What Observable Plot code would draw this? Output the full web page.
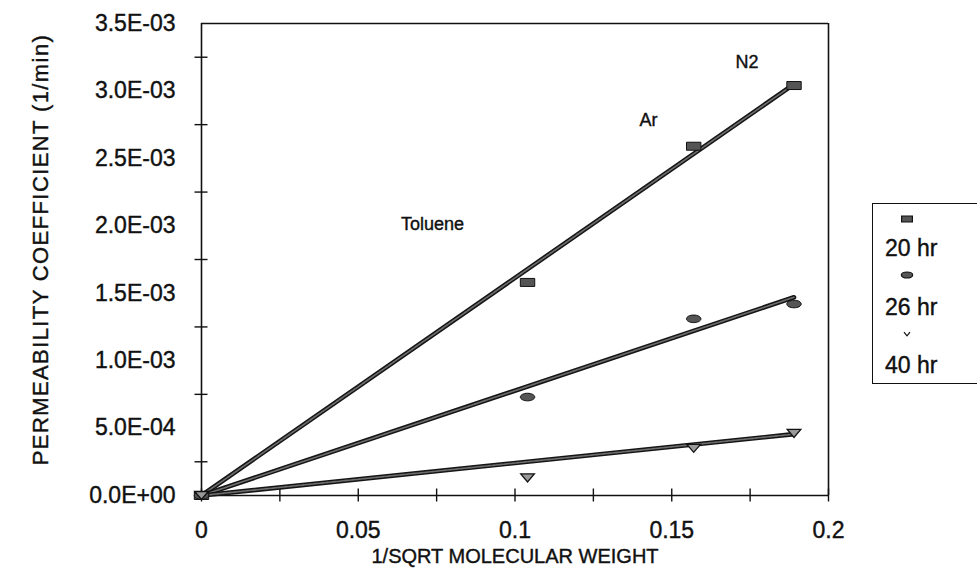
<!DOCTYPE html>
<html><head><meta charset="utf-8">
<script src="https://cdn.jsdelivr.net/npm/d3@7"></script>
<script src="https://cdn.jsdelivr.net/npm/@observablehq/plot@0.6"></script>
<style>
body{margin:0;background:#fff;font-family:"Liberation Sans",Arial,sans-serif;}
#wrap{position:relative;width:977px;height:571px;overflow:hidden;}
#legend{position:absolute;left:872px;top:203px;width:160px;height:181px;border:1.5px solid #111;box-sizing:border-box;}
#legend .it{position:absolute;left:12px;font-size:23px;line-height:26px;color:#111;-webkit-text-stroke:0.4px #111;}
#legend svg{position:absolute;}
svg text{stroke:#111;stroke-width:0.4px;}
</style></head><body><div id="wrap"><div id="chart"></div><div id="legend"></div></div>
<script>
// ---- data ----
const gases = ["Toluene", "Ar", "N2"];
const invSqrtMW = [0.104, 0.157, 0.189];
const perm20 = [1.58e-3, 2.59e-3, 3.04e-3];
const perm26 = [0.73e-3, 1.31e-3, 1.42e-3];
const perm40 = [0.13e-3, 0.35e-3, 0.46e-3];
const originX = [0];
const originY = [0];
const trendX = [0, 0.189];
const trend20 = [0, 3.05e-3];
const trend26 = [0, 1.47e-3];
const trend40 = [0, 0.455e-3];
const seriesNames = ["20 hr", "26 hr", "40 hr"];
const labelX = [0.0737, 0.1426, 0.174];
const labelY = [2.01e-3, 2.78e-3, 3.21e-3];
const xTicks = [0, 0.05, 0.1, 0.15, 0.2];
const xTickLabels = ["0", "0.05", "0.1", "0.15", "0.2"];
const xMinorTicks = [0, 0.025, 0.05, 0.075, 0.1, 0.125, 0.15, 0.175, 0.2];
const yTicks = [0, 0.5e-3, 1.0e-3, 1.5e-3, 2.0e-3, 2.5e-3, 3.0e-3, 3.5e-3];
const yTickLabels = ["0.0E+00", "5.0E-04", "1.0E-03", "1.5E-03", "2.0E-03", "2.5E-03", "3.0E-03", "3.5E-03"];
const yMinorTicks = [0.25e-3, 0.75e-3, 1.25e-3, 1.75e-3, 2.25e-3, 2.75e-3, 3.25e-3];
const xTitle = "1/SQRT MOLECULAR WEIGHT";
const yTitle = "PERMEABILITY COEFFICIENT (1/min)";

// ---- symbols ----
const rectSym = {draw(ctx, size) { const s = Math.sqrt(size / Math.PI); ctx.rect(-1.8 * s, -s, 3.6 * s, 2 * s); }};
const ellSym = {draw(ctx, size) {
  const s = Math.sqrt(size / Math.PI), a = 1.9 * s, b = s, k = 0.5523;
  ctx.moveTo(a, 0);
  ctx.bezierCurveTo(a, k * b, k * a, b, 0, b);
  ctx.bezierCurveTo(-k * a, b, -a, k * b, -a, 0);
  ctx.bezierCurveTo(-a, -k * b, -k * a, -b, 0, -b);
  ctx.bezierCurveTo(k * a, -b, a, -k * b, a, 0);
  ctx.closePath();
}};
const triSym = {draw(ctx, size) { const s = Math.sqrt(size / Math.PI); ctx.moveTo(-1.7 * s, -s); ctx.lineTo(1.7 * s, -s); ctx.lineTo(0, s); ctx.closePath(); }};
const chevSym = {draw(ctx, size) { const s = Math.sqrt(size / Math.PI); ctx.moveTo(-s, -0.6 * s); ctx.lineTo(0, 0.6 * s); ctx.lineTo(s, -0.6 * s); }};

const pts = (ys) => [{x: originX[0], y: originY[0]}, ...invSqrtMW.map((x, i) => ({x, y: ys[i]}))];
const trend = (ys) => trendX.map((x, i) => ({x, y: ys[i]}));

const lineStyle = (ys) => [
  Plot.line(trend(ys), {x: "x", y: "y", stroke: "#151515", strokeWidth: 4.6}),
  Plot.line(trend(ys), {x: "x", y: "y", stroke: "#6e6e6e", strokeWidth: 1.6, strokeDasharray: "3 1"})
];

const chart = Plot.plot({
  width: 977, height: 571,
  marginLeft: 201, marginRight: 149, marginTop: 23, marginBottom: 76,
  style: {fontFamily: "'Liberation Sans', Arial, sans-serif", color: "#111", background: "#fff"},
  x: {domain: [0, 0.2]},
  y: {domain: [0, 3.5e-3]},
  marks: [
    // frame
    Plot.ruleX([0, 0.2], {stroke: "#111", strokeWidth: 1.6}),
    Plot.ruleY([0, 3.5e-3], {stroke: "#111", strokeWidth: 1.6}),
    // crossing ticks
    Plot.axisX({ticks: xMinorTicks, tickSize: 13, dy: -6.5, fill: "none", stroke: "#111", strokeWidth: 1.4, label: null}),
    Plot.axisY({ticks: yMinorTicks, tickSize: 13, dx: 6.5, fill: "none", stroke: "#111", strokeWidth: 1.4, label: null}),
    // tick labels
    Plot.axisX({ticks: xTicks, tickSize: 0, tickPadding: 26, fontSize: 23, tickFormat: (d) => xTickLabels[xTicks.indexOf(d)], label: null}),
    Plot.axisY({ticks: yTicks, tickSize: 0, tickPadding: 26, fontSize: 23, tickFormat: (d) => yTickLabels[yTicks.indexOf(d)], label: null}),
    // titles
    Plot.text([xTitle], {frameAnchor: "bottom", dy: 67, fontSize: 20, fill: "#111"}),
    Plot.text([yTitle], {frameAnchor: "left", textAnchor: "middle", dx: -161, dy: -10, rotate: -90, fontSize: 22, fill: "#111", className: "ytitle"}),
    // gas annotations
    Plot.text(gases, {x: (d, i) => labelX[i], y: (d, i) => labelY[i], text: (d) => d, fontSize: 18, fill: "#111"}),
    // trend lines
    ...lineStyle(trend20), ...lineStyle(trend26), ...lineStyle(trend40),
    // points
    Plot.dot(pts(perm20), {x: "x", y: "y", symbol: rectSym, r: 4, fill: "#555", stroke: "#111", strokeWidth: 1}),
    Plot.dot(pts(perm26), {x: "x", y: "y", symbol: ellSym, r: 3.8, fill: "#555", stroke: "#111", strokeWidth: 1}),
    Plot.dot(pts(perm40), {x: "x", y: "y", symbol: triSym, r: 4, fill: "#999", stroke: "#111", strokeWidth: 1.3})
  ]
});
document.getElementById("chart").appendChild(chart);
d3.select(chart).selectAll(".ytitle text").style("letter-spacing", "1.4px");

// ---- legend ----
const legend = document.getElementById("legend");
const legSyms = [rectSym, ellSym, chevSym];
const legFill = ["#555", "#555", "none"];
const symTop = [8, 64, 123];
const txtTop = [31, 90, 148];
seriesNames.forEach((name, i) => {
  const s = d3.create("svg").attr("width", 24).attr("height", 14).style("left", "22px").style("top", symTop[i] + "px");
  s.append("path").attr("transform", "translate(12,7)")
    .attr("d", d3.symbol(legSyms[i], Math.PI * 3 * 3)())
    .attr("fill", legFill[i]).attr("stroke", "#111").attr("stroke-width", 1.2);
  legend.appendChild(s.node());
  const t = document.createElement("div");
  t.className = "it"; t.style.top = txtTop[i] + "px"; t.textContent = name;
  legend.appendChild(t);
});
</script>
</body></html>
